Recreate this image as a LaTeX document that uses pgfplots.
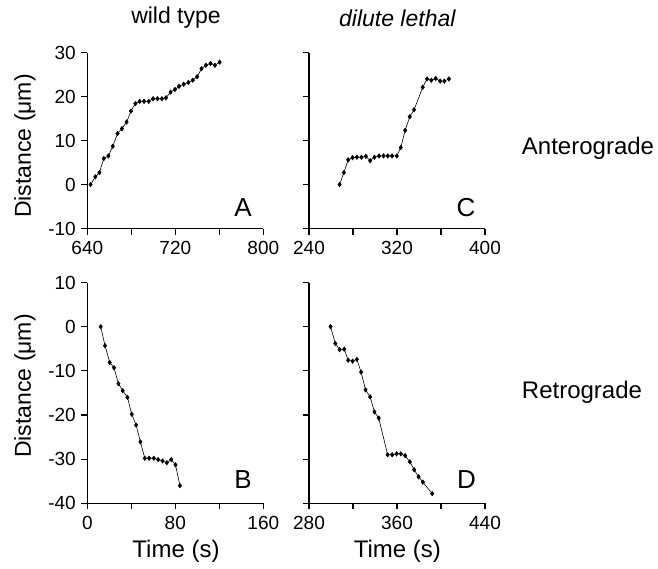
\documentclass[border=0pt]{standalone}
\usepackage{fontspec}
\setmainfont{Liberation Sans}
\usepackage{pgfplots}
\pgfplotsset{compat=1.18}
\pgfplotsset{
  panel/.style={
    scale only axis,
    width=176pt,
    anchor=south west,
    axis x line=bottom,
    axis y line=left,
    axis line style={line width=1.2pt,-},
    every tick/.style={line width=1.2pt,black},
    tick align=outside,
    major tick length=6pt,
    clip=false,
    /pgf/number format/assume math mode=true,
    ticklabel style={font=\fontsize{19}{19}\selectfont},
    xticklabel style={yshift=-3pt},
    yticklabel style={xshift=-2pt},
  },
  dat/.style={black, line width=0.6pt, mark=diamond*, mark size=2.2pt, mark options={solid}},
}
\begin{document}
\begin{tikzpicture}
\useasboundingbox (0,0) rectangle (658pt,-568pt);
% Panel A
\begin{axis}[panel, at={(87.3pt,-228.5pt)}, height=176pt,
  xmin=640, xmax=800, ymin=-10, ymax=30,
  xtick={640,680,720,760,800}, xticklabels={640,,720,,800},
  ytick={-10,0,10,20,30}]
\addplot[dat] coordinates {
(643.0,0) (647.3,1.75) (651.0,2.7) (655.0,5.9) (659.2,6.5) (663.2,8.7)
(667.5,11.6) (671.5,12.7) (675.7,14.2) (679.7,16.7) (683.7,18.4) (687.6,18.9)
(691.6,18.9) (695.9,18.9) (699.8,19.5) (703.8,19.5) (707.8,19.5) (711.5,19.7)
(715.7,21.0) (719.7,21.6) (723.4,22.3) (727.6,22.8) (731.9,23.2) (735.9,23.7)
(739.8,24.5) (743.8,26.3) (747.8,27.1) (752.0,27.5) (756.0,27.1) (760.3,27.8)};
\end{axis}
% Panel C
\begin{axis}[panel, at={(309pt,-228.5pt)}, height=176pt,
  xmin=240, xmax=400, ymin=-10, ymax=30,
  xtick={240,280,320,360,400}, xticklabels={240,,320,,400},
  ytick={-10,0,10,20,30}, yticklabels={}]
\addplot[dat] coordinates {
(267.8,0) (271.7,2.7) (275.6,5.6) (279.6,6.1) (283.5,6.2) (287.7,6.2)
(291.7,6.4) (295.6,5.4) (299.5,6.2) (303.7,6.5) (307.7,6.5) (311.6,6.5)
(315.5,6.5) (319.8,6.5) (323.4,8.4) (327.4,12.3) (331.6,15.4) (335.5,17.0)
(343.4,22.1) (347.3,24.0) (351.2,23.7) (355.2,24.1) (359.2,23.5) (363.1,23.5)
(367.2,24.0)};
\end{axis}
% Panel B
\begin{axis}[panel, at={(87.3pt,-503.3pt)}, height=220.8pt,
  xmin=0, xmax=160, ymin=-40, ymax=10,
  xtick={0,40,80,120,160}, xticklabels={0,,80,,160},
  ytick={-40,-30,-20,-10,0,10}]
\addplot[dat] coordinates {
(12.2,0) (16.1,-4.3) (20.4,-8.1) (24.3,-9.3) (28.3,-12.9) (32.2,-14.5)
(36.5,-16.0) (40.4,-19.8) (44.4,-22.3) (48.3,-26.1) (52.3,-29.8) (56.2,-29.8)
(60.5,-29.8) (64.4,-30.1) (68.4,-30.4) (72.3,-30.8) (76.3,-30.1) (80.2,-31.3)
(84.2,-36.0)};
\end{axis}
% Panel D
\begin{axis}[panel, at={(309pt,-503.3pt)}, height=220.8pt,
  xmin=280, xmax=440, ymin=-40, ymax=10,
  xtick={280,320,360,400,440}, xticklabels={280,,360,,440},
  ytick={-40,-30,-20,-10,0,10}, yticklabels={}]
\addplot[dat] coordinates {
(299.6,0) (303.9,-3.8) (307.8,-5.2) (312.0,-5.1) (315.6,-7.6) (319.6,-7.8)
(323.5,-7.4) (327.4,-10.3) (331.4,-14.3) (335.6,-15.9) (339.5,-19.3) (343.4,-20.7)
(351.5,-29.0) (355.6,-29.0) (359.6,-28.8) (363.5,-28.8) (367.4,-29.2) (371.7,-30.6)
(375.6,-32.4) (379.6,-34.0) (383.5,-35.2) (392.0,-37.8)};
\end{axis}
% Texts
\node[font=\fontsize{23}{23}\selectfont] at (176pt,-18pt) {wild type};
\node[font=\fontsize{23}{23}\selectfont\itshape] at (397.3pt,-18pt) {dilute lethal};
\node[font=\fontsize{24}{24}\selectfont] at (176pt,-551pt) {Time (s)};
\node[font=\fontsize{24}{24}\selectfont] at (397.3pt,-551pt) {Time (s)};
\node[font=\fontsize{23}{23}\selectfont, rotate=90] at (25pt,-146pt) {Distance (μm)};
\node[font=\fontsize{23}{23}\selectfont, rotate=90] at (25pt,-386pt) {Distance (μm)};
\node[font=\fontsize{24}{24}\selectfont] at (588pt,-148pt) {Anterograde};
\node[font=\fontsize{24}{24}\selectfont] at (582pt,-392pt) {Retrograde};
\node[font=\fontsize{26}{26}\selectfont] at (243pt,-207.5pt) {A};
\node[font=\fontsize{26}{26}\selectfont] at (466pt,-207.5pt) {C};
\node[font=\fontsize{26}{26}\selectfont] at (243pt,-479.5pt) {B};
\node[font=\fontsize{26}{26}\selectfont] at (466.5pt,-480pt) {D};
\end{tikzpicture}
\end{document}
